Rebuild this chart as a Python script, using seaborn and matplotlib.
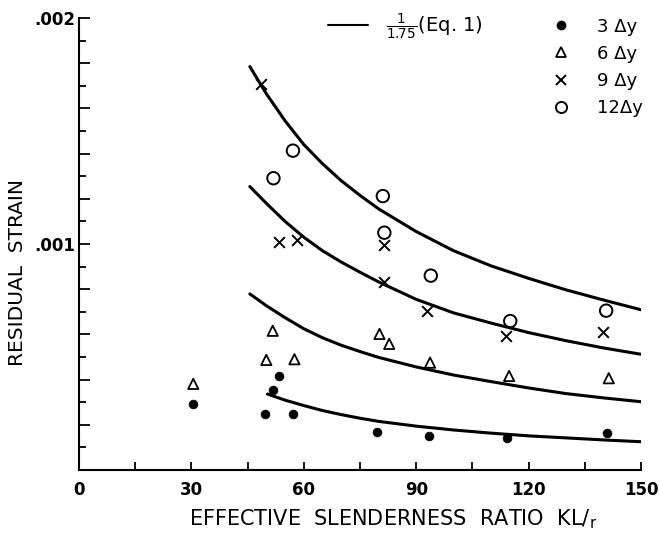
import matplotlib
matplotlib.use('Agg')
import matplotlib.pyplot as plt
import matplotlib.ticker as mticker
from matplotlib.lines import Line2D
import seaborn as sns
import pandas as pd

# measured residual strain vs effective slenderness, one set per ductility level
kl_r_3 = [30.5, 49.7, 51.9, 53.5, 57.2, 79.6, 93.5, 114.3, 140.9]
strain_3 = [0.000292, 0.000248, 0.000354, 0.000416, 0.000248, 0.000168, 0.000150, 0.000142, 0.000164]

kl_r_6 = [30.5, 50.0, 51.7, 57.5, 80.2, 82.8, 93.7, 114.8, 141.4]
strain_6 = [0.000381, 0.000487, 0.000616, 0.000490, 0.000602, 0.000558, 0.000475, 0.000416, 0.000406]

kl_r_9 = [48.7, 53.3, 58.2, 81.5, 81.3, 92.9, 113.9, 139.9]
strain_9 = [0.001708, 0.001010, 0.001018, 0.000996, 0.000833, 0.000705, 0.000593, 0.000609]

kl_r_12 = [51.9, 57.1, 81.1, 81.5, 93.9, 115.1, 140.7]
strain_12 = [0.001291, 0.001413, 0.001212, 0.001050, 0.000860, 0.000659, 0.000705]

# Eq. 1 curves
eq_x = [45.6, 50, 55, 60, 65, 70, 75, 80, 90, 100, 110, 120, 130, 140, 150]
eq_12 = [0.001785, 0.001665, 0.001545, 0.00144, 0.001355, 0.00128, 0.001215, 0.001155,
         0.001055, 0.00097, 0.000903, 0.000848, 0.000797, 0.000752, 0.000709]
eq_9 = [0.001254, 0.00118, 0.0011, 0.00103, 0.00097, 0.00092, 0.000875, 0.000832,
        0.000755, 0.000695, 0.00065, 0.000608, 0.000572, 0.00054, 0.000512]
eq_6 = [0.000779, 0.000727, 0.000674, 0.000625, 0.000585, 0.000552, 0.000524, 0.000498,
        0.000456, 0.00042, 0.000391, 0.000363, 0.000338, 0.000319, 0.000302]
eq_x_3 = [50.3, 55, 60, 65, 70, 75, 80, 90, 100, 110, 120, 130, 140, 150]
eq_3 = [0.000336, 0.000309, 0.000285, 0.000263, 0.000245, 0.000229, 0.000215,
        0.000194, 0.000177, 0.000163, 0.000151, 0.000142, 0.000133, 0.000125]

sns.set_style('ticks')
plt.rcParams['font.family'] = ['DejaVu Sans']
plt.rcParams.update({'text.color': 'black', 'axes.labelcolor': 'black',
                     'xtick.color': 'black', 'ytick.color': 'black',
                     'axes.edgecolor': 'black'})

fig = plt.figure(figsize=(6.6, 5.37), dpi=100)
ax = fig.add_axes([0.1197, 0.1248, 0.8515, 0.8417])

curves = pd.DataFrame({
    'x': eq_x * 3 + eq_x_3,
    'y': eq_12 + eq_9 + eq_6 + eq_3,
    'curve': ['12'] * len(eq_x) + ['9'] * len(eq_x) + ['6'] * len(eq_x) + ['3'] * len(eq_x_3),
})
sns.lineplot(data=curves, x='x', y='y', units='curve', estimator=None, sort=False,
             color='black', lw=2.2, ax=ax, legend=False)

sns.scatterplot(x=kl_r_3, y=strain_3, marker='o', s=40, color='black', edgecolor='black', ax=ax)
sns.scatterplot(x=kl_r_6, y=strain_6, marker='^', s=55, facecolor='none', edgecolor='black', linewidth=1.3, ax=ax)
sns.scatterplot(x=kl_r_9, y=strain_9, marker='x', s=60, color='black', linewidth=1.4, ax=ax)
sns.scatterplot(x=kl_r_12, y=strain_12, marker='o', s=80, facecolor='none', edgecolor='black', linewidth=1.4, ax=ax)

ax.set_xlim(0, 150)
ax.set_ylim(0, 0.002)
sns.despine(ax=ax)
for sp in ['left', 'bottom']:
    ax.spines[sp].set_linewidth(1.5)

ax.xaxis.set_major_locator(mticker.MultipleLocator(30))
ax.xaxis.set_minor_locator(mticker.MultipleLocator(15))
ax.yaxis.set_major_locator(mticker.MultipleLocator(0.0002))
ax.yaxis.set_minor_locator(mticker.MultipleLocator(0.0001))
ax.yaxis.set_major_formatter(mticker.FuncFormatter(
    lambda v, p: ('%.3f' % v)[1:] if round(v * 10000) in (10, 20) else ''))
ax.tick_params(axis='x', which='both', direction='in', length=6, width=1.3, pad=8,
               labelsize=12)
ax.tick_params(axis='y', which='major', direction='in', length=8, width=1.3, pad=3, labelsize=12)
ax.tick_params(axis='y', which='minor', direction='in', length=5, width=1.3)
for lab in ax.get_xticklabels() + ax.get_yticklabels():
    lab.set_fontweight('bold')

ax.set_xlabel('EFFECTIVE  SLENDERNESS  RATIO  KL/$_\\mathregular{r}$', fontsize=15)
ax.xaxis.set_label_coords(0.559, -0.083)
ax.set_ylabel('RESIDUAL  STRAIN', fontsize=14.5)
ax.yaxis.set_label_coords(-0.093, 0.436)

leg1 = ax.legend(handles=[Line2D([], [], color='black', lw=1.5)],
                 labels=[r'$\frac{1}{1.75}$(Eq. 1)'], loc='upper left',
                 bbox_to_anchor=(0.425, 1.035), frameon=False, handlelength=2.1,
                 handletextpad=0.9, fontsize=14, borderpad=0)
ax.add_artist(leg1)

handles = [
    Line2D([], [], ls='none', marker='o', ms=6, color='black'),
    Line2D([], [], ls='none', marker='^', ms=7, mfc='none', mec='black', mew=1.3),
    Line2D([], [], ls='none', marker='x', ms=7, color='black', mew=1.4),
    Line2D([], [], ls='none', marker='o', ms=8, mfc='none', mec='black', mew=1.4),
]
ax.legend(handles=handles, labels=['3 Δy', '6 Δy', '9 Δy', '12Δy'], loc='upper left',
          bbox_to_anchor=(0.81, 1.021), frameon=False, fontsize=13, labelspacing=0.51,
          handletextpad=1.0, borderpad=0)

fig.savefig('out.png', dpi=100)
